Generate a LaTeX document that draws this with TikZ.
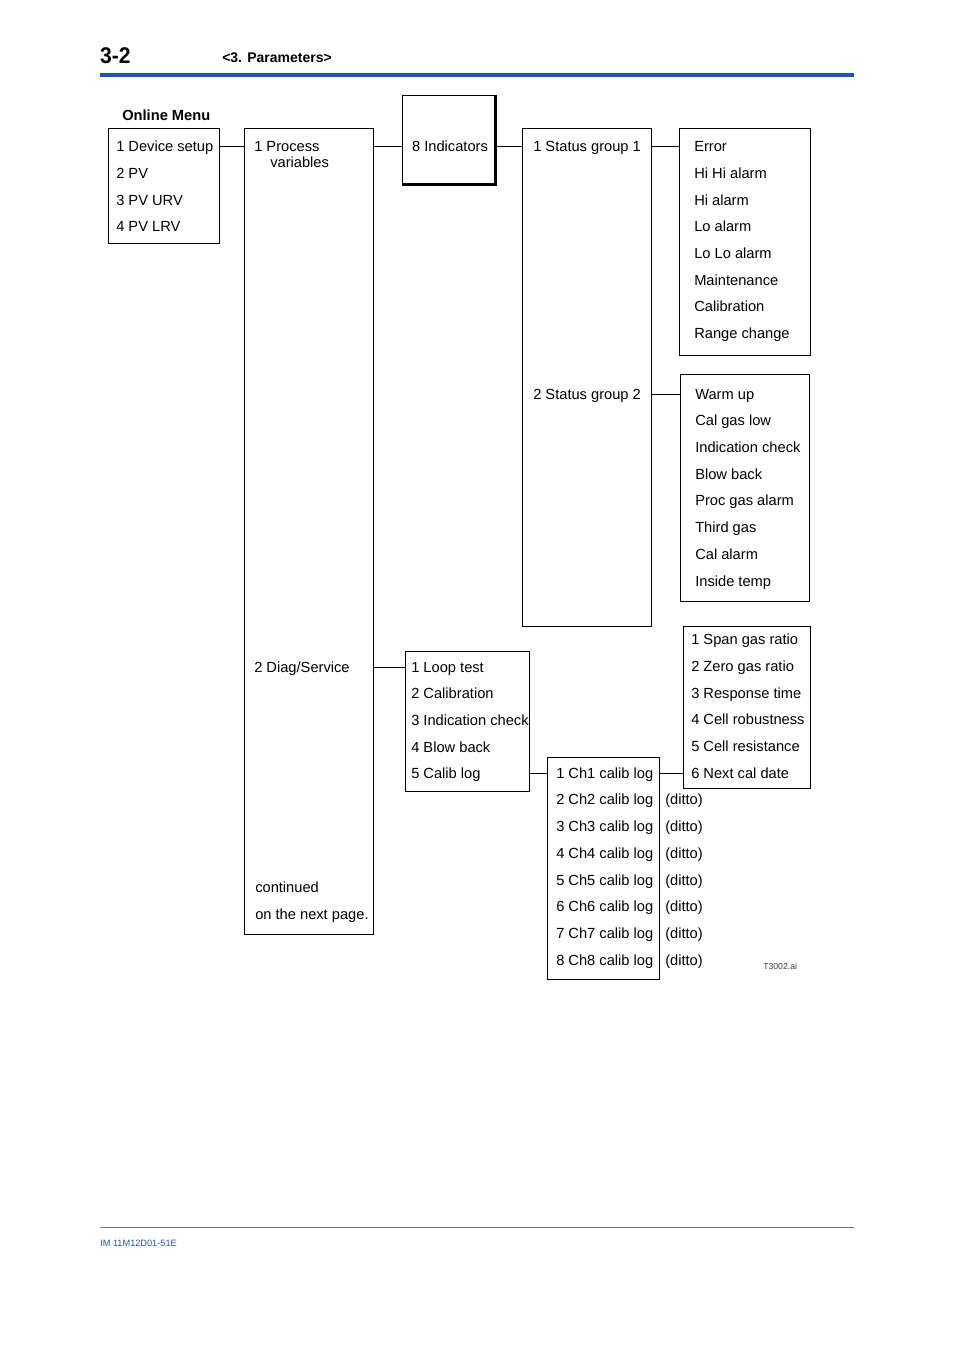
\documentclass[tikz,border=0pt]{standalone}
\usepackage{fontspec}
\setmainfont{Liberation Sans}
\usetikzlibrary{fit}
\definecolor{headblue}{RGB}{32,84,176}
\definecolor{footgray}{RGB}{120,120,130}
\begin{document}
\begin{tikzpicture}[x=0.75pt,y=-0.75pt,
  itm/.style={anchor=west, inner sep=0pt, text height=7.9pt, text depth=0pt, font=\fontsize{11}{13}\selectfont},
  boxs/.style={draw, line width=0.75pt, inner sep=0pt},
  conn/.style={line width=0.75pt}]
\useasboundingbox[fill=white] (0,0) rectangle (954,1350);
% header
\node[anchor=west, inner sep=0pt, text height=12.5pt, text depth=0pt, font=\fontsize{17}{19}\bfseries\selectfont, xscale=0.93] (pg) at (100,55) {3-2};
\node[anchor=west, inner sep=0pt, text height=7.5pt, text depth=0pt, font=\fontsize{10.5}{12}\bfseries\selectfont] (chap) at (222,57) {<3. Parameters>};
\coordinate (hl1) at (100,75);
\coordinate (hl2) at (854,75);
\draw[headblue, line width=2.3pt] (hl1) -- (hl2);
% footer
\coordinate (fl1) at (100,1227);
\coordinate (fl2) at (854,1227);
\draw[footgray, line width=0.6pt] (fl1) -- (fl2);
\node[anchor=west, inner sep=0pt, text height=5pt, text depth=0pt, font=\fontsize{6.9}{8}\selectfont, text=headblue] (doc) at (100,1243) {IM 11M12D01-51E};
\node[anchor=west, inner sep=0pt, text height=4.6pt, text depth=0pt, font=\fontsize{6.5}{8}\selectfont, text=black!75] (fig) at (763,966) {T3002.ai};

% Box A: Online Menu
\node[anchor=west, inner sep=0pt, text height=7.9pt, text depth=0pt, font=\fontsize{11}{13}\bfseries\selectfont] (om) at (122,115) {Online Menu};
\node[boxs, fit={(108,128) (219,243)}] (A) {};
\node[itm] (a1) at (116,146) {1 Device setup};
\node[itm] (a2) at (116,173) {2 PV};
\node[itm] (a3) at (116,200) {3 PV URV};
\node[itm] (a4) at (116,226) {4 PV LRV};

% Box B
\node[boxs, fit={(244,128) (373,934)}] (B) {};
\node[itm] (b1) at (254,146) {1 Process};
\node[itm] (b1b) at (270,162) {variables};
\node[itm] (b2) at (254,667) {2 Diag/Service};
\node[itm] (b3) at (255,887) {continued};
\node[itm] (b4) at (255,914) {on the next page.};

% Box C
\node[boxs, fit={(402,95) (496,185)}] (C) {};
\draw[line width=1.9pt] ([xshift=-0.6pt]C.north east) -- ([xshift=-0.6pt,yshift=0.6pt]C.south east) -- ([yshift=0.6pt]C.south west);
\node[itm, anchor=center] (c1) at (450,146) {8 Indicators};

% Box D
\node[boxs, fit={(522,128) (651,626)}] (D) {};
\node[itm] (d1) at (533,146) {1 Status group 1};
\node[itm] (d2) at (533,394) {2 Status group 2};

% Box E
\node[boxs, fit={(679,128) (810,355)}] (E) {};
\node[itm] (e1) at (694,146) {Error};
\node[itm] (e2) at (694,173) {Hi Hi alarm};
\node[itm] (e3) at (694,200) {Hi alarm};
\node[itm] (e4) at (694,226) {Lo alarm};
\node[itm] (e5) at (694,253) {Lo Lo alarm};
\node[itm] (e6) at (694,280) {Maintenance};
\node[itm] (e7) at (694,306) {Calibration};
\node[itm] (e8) at (694,333) {Range change};

% Box F
\node[boxs, fit={(680,374) (809,601)}] (F) {};
\node[itm] (f1) at (695,394) {Warm up};
\node[itm] (f2) at (695,420) {Cal gas low};
\node[itm] (f3) at (695,447) {Indication check};
\node[itm] (f4) at (695,474) {Blow back};
\node[itm] (f5) at (695,500) {Proc gas alarm};
\node[itm] (f6) at (695,527) {Third gas};
\node[itm] (f7) at (695,554) {Cal alarm};
\node[itm] (f8) at (695,581) {Inside temp};

% Box G
\node[boxs, fit={(405,651) (529,791)}] (G) {};
\node[itm] (g1) at (411,667) {1 Loop test};
\node[itm] (g2) at (411,693) {2 Calibration};
\node[itm] (g3) at (411,720) {3 Indication check};
\node[itm] (g4) at (411,747) {4 Blow back};
\node[itm] (g5) at (411,773) {5 Calib log};

% Box H
\node[boxs, fit={(547,757) (659,979)}] (H) {};
\node[itm] (h1) at (556,773) {1 Ch1 calib log};
\node[itm] (h2) at (556,799) {2 Ch2 calib log};
\node[itm] (h3) at (556,826) {3 Ch3 calib log};
\node[itm] (h4) at (556,853) {4 Ch4 calib log};
\node[itm] (h5) at (556,880) {5 Ch5 calib log};
\node[itm] (h6) at (556,906) {6 Ch6 calib log};
\node[itm] (h7) at (556,933) {7 Ch7 calib log};
\node[itm] (h8) at (556,960) {8 Ch8 calib log};
\node[itm] (k2) at (665,799) {(ditto)};
\node[itm] (k3) at (665,826) {(ditto)};
\node[itm] (k4) at (665,853) {(ditto)};
\node[itm] (k5) at (665,880) {(ditto)};
\node[itm] (k6) at (665,906) {(ditto)};
\node[itm] (k7) at (665,933) {(ditto)};
\node[itm] (k8) at (665,960) {(ditto)};

% Box I
\node[boxs, fit={(683,626) (810,788)}] (I) {};
\node[itm] (i1) at (691,639) {1 Span gas ratio};
\node[itm] (i2) at (691,666) {2 Zero gas ratio};
\node[itm] (i3) at (691,693) {3 Response time};
\node[itm] (i4) at (691,719) {4 Cell robustness};
\node[itm] (i5) at (691,746) {5 Cell resistance};
\node[itm] (i6) at (691,773) {6 Next cal date};

% connectors
\draw[conn] (A.east |- a1.west) -- (B.west |- a1.west);
\draw[conn] (B.east |- a1.west) -- (C.west |- a1.west);
\draw[conn] (C.east |- a1.west) -- (D.west |- a1.west);
\draw[conn] (D.east |- e1.west) -- (E.west |- e1.west);
\draw[conn] (D.east |- d2.west) -- (F.west |- d2.west);
\draw[conn] (B.east |- b2.west) -- (G.west |- b2.west);
\draw[conn] (G.east |- g5.west) -- (H.west |- g5.west);
\draw[conn] (H.east |- h1.west) -- (I.west |- h1.west);
\end{tikzpicture}
\end{document}
